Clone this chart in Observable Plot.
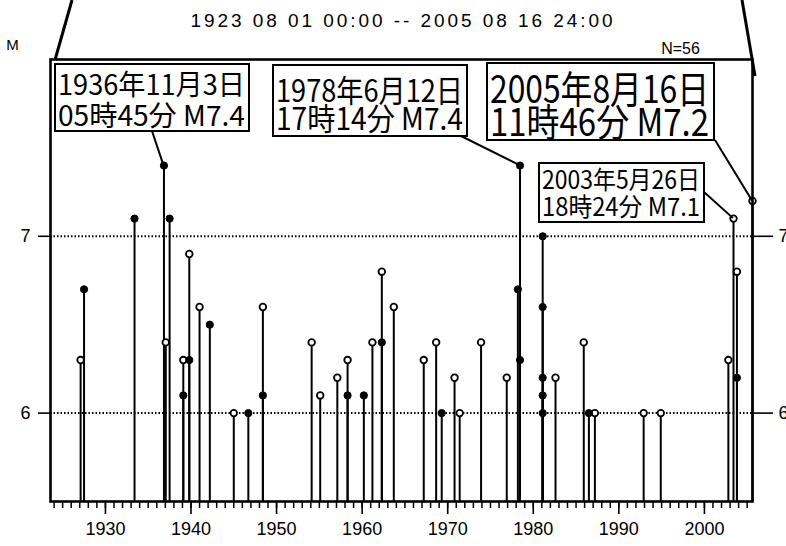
<!DOCTYPE html>
<html>
<head>
<meta charset="utf-8">
<script src="https://cdn.jsdelivr.net/npm/d3@7"></script>
<script src="https://cdn.jsdelivr.net/npm/@observablehq/plot@0.6"></script>
<style>
  html, body { margin: 0; padding: 0; background: #fff; }
  #chart { position: relative; width: 786px; height: 546px; overflow: hidden; }
</style>
</head>
<body>
<div id="chart"></div>
<script>
// ---- data ----
const years = [1927.1, 1927.5, 1933.4, 1936.84, 1937.05, 1937.5, 1939.1, 1939.1, 1939.8, 1939.8,
  1941.0, 1942.2, 1945.0, 1946.7, 1948.4, 1948.4, 1954.1, 1955.1, 1957.1, 1958.3,
  1958.3, 1960.2, 1961.2, 1962.3, 1962.3, 1963.7, 1967.2, 1968.65, 1969.3, 1970.8,
  1971.4, 1973.9, 1976.9, 1978.2, 1978.45, 1978.45, 1981.1, 1981.1, 1981.1, 1981.1,
  1981.1, 1982.6, 1985.9, 1986.5, 1987.2, 1992.9, 1994.9, 2002.8, 2003.4, 2003.8,
  2003.8, 2005.62];
const mags = [6.3, 6.7, 7.1, 7.4, 6.4, 7.1, 6.3, 6.1, 6.9, 6.3,
  6.6, 6.5, 6.0, 6.0, 6.6, 6.1, 6.4, 6.1, 6.2, 6.3,
  6.1, 6.1, 6.4, 6.8, 6.4, 6.6, 6.3, 6.4, 6.0, 6.2,
  6.0, 6.4, 6.2, 6.7, 7.4, 6.3, 7.0, 6.6, 6.2, 6.1,
  6.0, 6.2, 6.4, 6.0, 6.0, 6.0, 6.0, 6.3, 7.1, 6.8,
  6.2, 7.2];
const filled = [0, 1, 1, 1, 0, 1, 0, 1, 0, 1,
  0, 1, 0, 1, 0, 1, 0, 0, 0, 0,
  1, 1, 0, 0, 1, 0, 0, 0, 1, 0,
  0, 0, 0, 1, 1, 1, 1, 1, 1, 1,
  1, 0, 0, 1, 0, 0, 0, 0, 0, 0,
  1, 0];

const xStart = 1923.58;   // 1923 08 01
const xEnd = 2005.62;     // 2005 08 16
const yMin = 5.5, yMax = 8.0;
const decadeTicks = [1930, 1940, 1950, 1960, 1970, 1980, 1990, 2000];
const yearTicks = d3.range(1924, 2006);
const magTicks = [6, 7];

const titleText = "1923 08 01 00:00 -- 2005 08 16 24:00";
const countText = "N=56";
const axisLabel = "M";

const annoYears = [1936.84, 1978.45, 2005.62, 2003.4];
const annoMags = [7.4, 7.4, 7.2, 7.1];
const annoLine1 = ["1936年11月3日", "1978年6月12日", "2005年8月16日", "2003年5月26日"];
const annoLine2 = ["05時45分 M7.4", "17時14分 M7.4", "11時46分 M7.2", "18時24分 M7.1"];

// ---- layout of annotation boxes (pixels) ----
const boxLayout = [
  {x: 55,  y: 64,  w: 194, h: 67, fs: 28, b1: 95,  b2: 126, tw: 187, ax: 152, ay: 131},
  {x: 273, y: 65,  w: 194, h: 71, fs: 31, b1: 102, b2: 130, tw: 187, ax: 459, ay: 135},
  {x: 487, y: 63,  w: 227, h: 77, fs: 38, b1: 103, b2: 136, tw: 219, ax: 715, ay: 140},
  {x: 539, y: 163, w: 165, h: 59, fs: 25, b1: 189, b2: 216, tw: 158, ax: 704, ay: 192}
];

const events = years.map((y, i) => ({year: y, mag: mags[i], filled: filled[i] === 1}));

const numFont = "'Liberation Sans Narrow', 'Liberation Sans', Arial, sans-serif";
const titleFont = "'Liberation Sans', Arial, sans-serif";
const cjkFont = "'Noto Sans CJK JP', 'Noto Sans', sans-serif";

const chart = Plot.plot({
  width: 786,
  height: 546,
  marginLeft: 50,
  marginRight: 34,
  marginTop: 59,
  marginBottom: 45,
  x: {domain: [xStart, xEnd]},
  y: {domain: [yMin, yMax]},
  style: {fontFamily: numFont, background: "white", color: "black", overflow: "visible"},
  marks: [
    Plot.ruleY(magTicks, {stroke: "black", strokeWidth: 2, strokeDasharray: "1.5,2"}),
    Plot.ruleX(events, {x: "year", y1: yMin, y2: "mag", stroke: "black", strokeWidth: 2}),
    Plot.dot(events.filter(d => !d.filled), {x: "year", y: "mag", r: 3.3, fill: "white", stroke: "black", strokeWidth: 1.8}),
    Plot.dot(events.filter(d => d.filled), {x: "year", y: "mag", r: 3.6, fill: "black", stroke: "black", strokeWidth: 1}),
    Plot.frame({stroke: "black", strokeWidth: 2.6}),
    Plot.axisX(yearTicks, {tickSize: 7, tickFormat: () => "", label: null, strokeWidth: 1.5}),
    Plot.axisX(decadeTicks, {tickSize: 13, tickPadding: 8, tickFormat: d => String(d), label: null, fontSize: 18, strokeWidth: 1.6}),
    Plot.axisY(magTicks, {anchor: "left", tickSize: 12, tickPadding: 8, tickFormat: d => String(d), label: null, fontSize: 18, strokeWidth: 1.6}),
    Plot.axisY(magTicks, {anchor: "right", tickSize: 20, tickPadding: 6, tickFormat: d => String(d), label: null, fontSize: 18, strokeWidth: 1.6}),
    Plot.text([titleText], {frameAnchor: "top", dy: -39, fontSize: 19, fontFamily: titleFont, textAnchor: "middle", lineAnchor: "middle"}),
    Plot.text([countText], {frameAnchor: "top-right", dx: -72, dy: -11, fontSize: 16, textAnchor: "middle", lineAnchor: "middle"}),
    Plot.text([axisLabel], {frameAnchor: "top-left", dx: -38, dy: -14, fontSize: 15, textAnchor: "middle", lineAnchor: "middle"})
  ]
});

document.getElementById("chart").appendChild(chart);

const svg = d3.select(chart);
// stretch title to match reference width
svg.selectAll("text").filter(function() { return this.textContent === titleText; })
  .attr("textLength", 422).attr("lengthAdjust", "spacing");

// ---- annotation boxes, leaders via the plot's own scales ----
const sx = chart.scale("x"), sy = chart.scale("y");
const g = svg.append("g").attr("class", "annotations").attr("text-anchor", "start");
boxLayout.forEach((b, i) => {
  const px = sx.apply(annoYears[i]), py = sy.apply(annoMags[i]);
  g.append("line").attr("x1", b.ax).attr("y1", b.ay).attr("x2", px).attr("y2", py)
    .attr("stroke", "black").attr("stroke-width", 2);
  g.append("rect").attr("x", b.x).attr("y", b.y).attr("width", b.w).attr("height", b.h)
    .attr("fill", "white").attr("stroke", "black").attr("stroke-width", 2);
  [[annoLine1[i], b.b1], [annoLine2[i], b.b2]].forEach(([t, base]) => {
    g.append("text").attr("x", b.x + 3).attr("y", base)
      .attr("text-anchor", "start")
      .attr("font-family", cjkFont).attr("font-size", b.fs)
      .attr("textLength", b.tw).attr("lengthAdjust", "spacingAndGlyphs")
      .attr("fill", "black").text(t);
  });
});

// corner guide lines outside the frame (decorative, from the scan)
g.append("line").attr("x1", 72).attr("y1", 0).attr("x2", 55).attr("y2", 60)
  .attr("stroke", "black").attr("stroke-width", 3);
g.append("line").attr("x1", 742).attr("y1", 0).attr("x2", 755).attr("y2", 76)
  .attr("stroke", "black").attr("stroke-width", 3);
</script>
</body>
</html>
